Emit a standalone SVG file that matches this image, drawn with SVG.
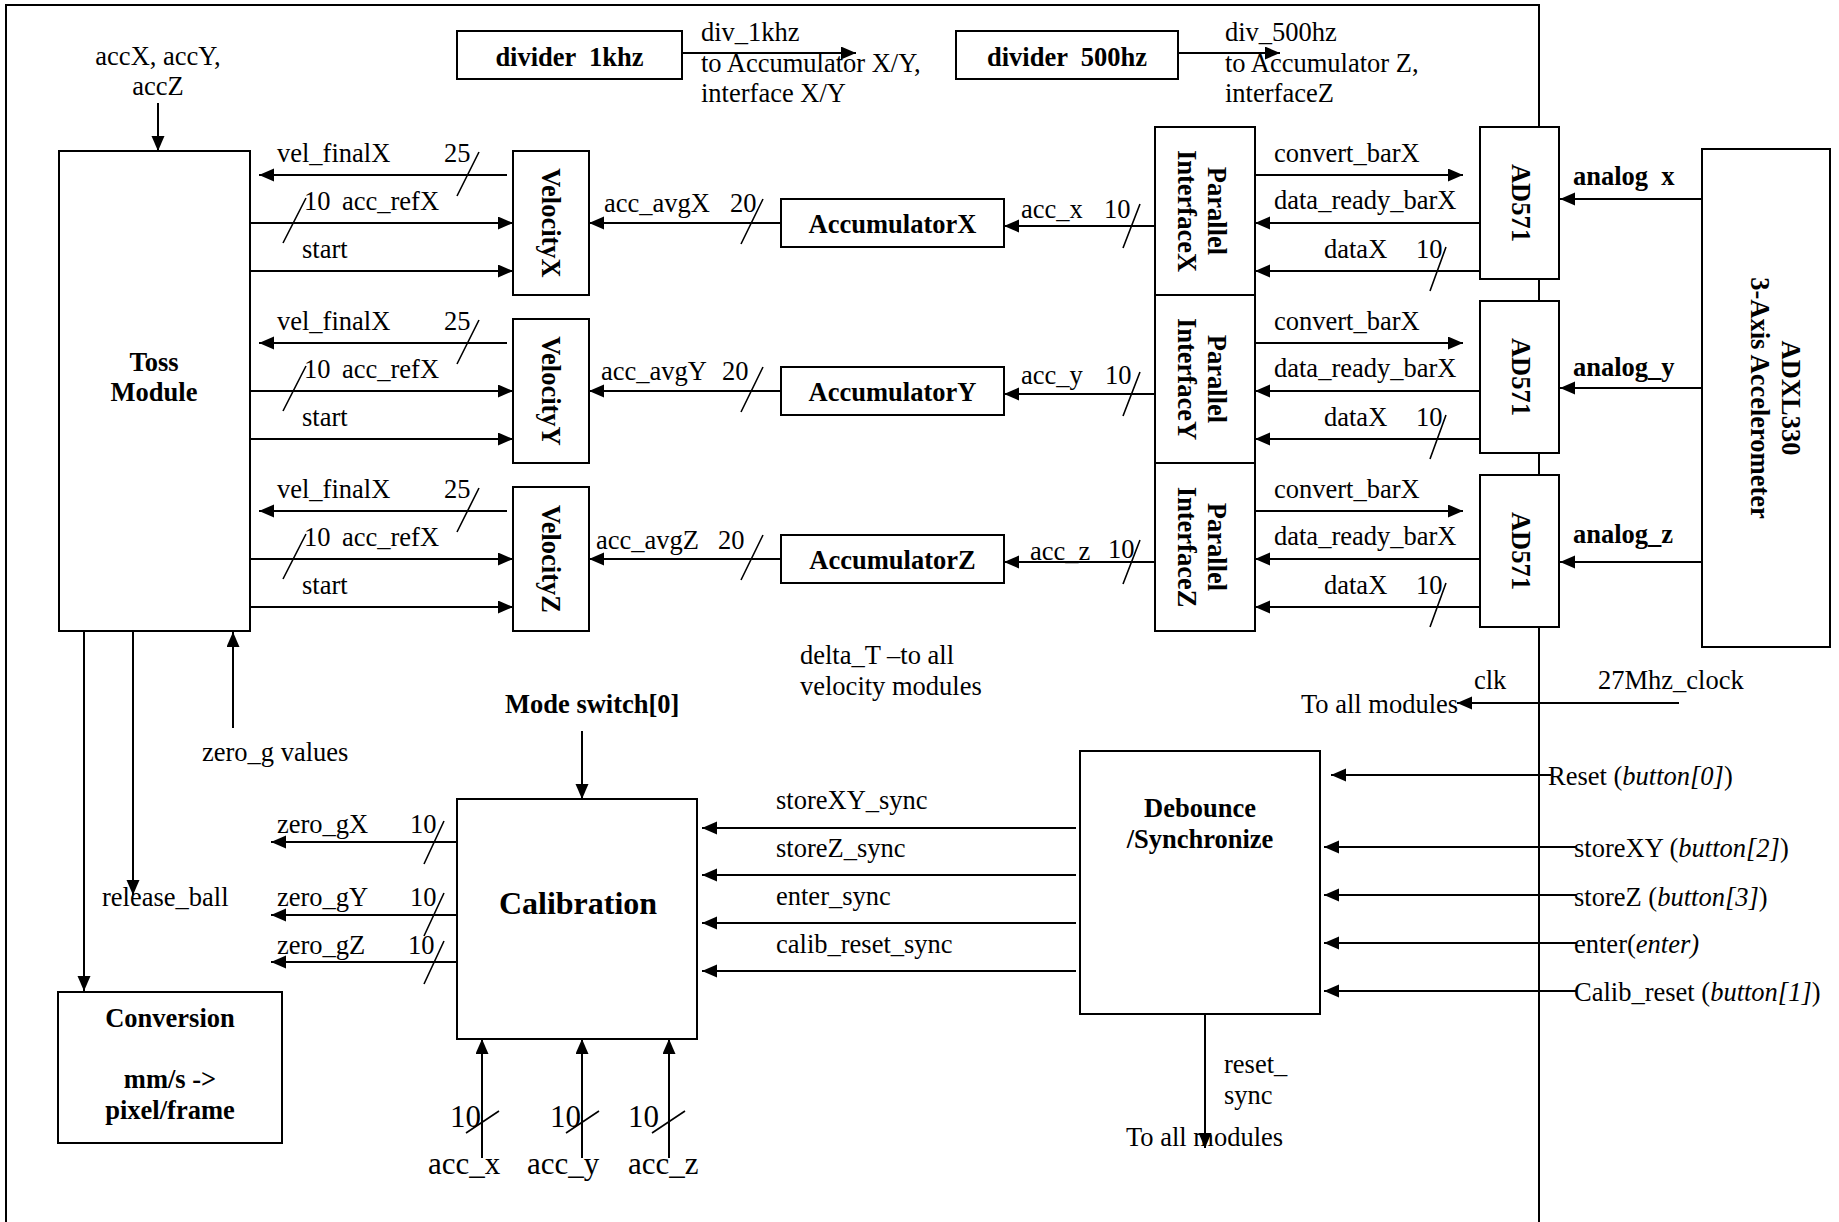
<svg xmlns="http://www.w3.org/2000/svg" width="1839" height="1222" viewBox="0 0 1839 1222">
<style>
.t{font-family:"Liberation Serif","Times New Roman",serif;font-size:26.5px;fill:#000}
.b{font-weight:bold}
.m{text-anchor:middle}
.big{font-size:31px}
.box{fill:#fff;stroke:#000;stroke-width:2}
.w{stroke:#000;stroke-width:2;fill:none}
.a{marker-end:url(#ah)}
.s{stroke:#000;stroke-width:1.6;fill:none}
</style>
<defs>
<marker id="ah" markerUnits="userSpaceOnUse" markerWidth="16" markerHeight="14" refX="15" refY="6.5" orient="auto"><path d="M0,0 L15,6.5 L0,13 z" fill="#000"/></marker>
</defs>
<rect width="1839" height="1222" fill="#fff"/>
<path class="w" d="M6,1222 V5 H1539 V1222"/>

<g id="connectors">
<line class="w a" x1="682" y1="53" x2="856" y2="53"/>
<line class="w a" x1="1178" y1="53" x2="1280" y2="53"/>
<line class="w a" x1="158" y1="103" x2="158" y2="151"/>
<g id="rowX">
<line class="w a" x1="507" y1="175" x2="259" y2="175"/>
<line class="w a" x1="250" y1="223" x2="513" y2="223"/>
<line class="w a" x1="250" y1="271" x2="513" y2="271"/>
<line class="w a" x1="781" y1="223" x2="589" y2="223"/>
<line class="w a" x1="1155" y1="226" x2="1004" y2="226"/>
<line class="w a" x1="1255" y1="175" x2="1463" y2="175"/>
<line class="w a" x1="1480" y1="223" x2="1255" y2="223"/>
<line class="w a" x1="1480" y1="271" x2="1255" y2="271"/>
<path class="s" d="M479,152 L457,196 M306,198 L283,243 M763,199 L741,244 M1140,204 L1123,248 M1446,247 L1430,291"/>
</g>
<g id="rowY" transform="translate(0,168)">
<line class="w a" x1="507" y1="175" x2="259" y2="175"/>
<line class="w a" x1="250" y1="223" x2="513" y2="223"/>
<line class="w a" x1="250" y1="271" x2="513" y2="271"/>
<line class="w a" x1="781" y1="223" x2="589" y2="223"/>
<line class="w a" x1="1155" y1="226" x2="1004" y2="226"/>
<line class="w a" x1="1255" y1="175" x2="1463" y2="175"/>
<line class="w a" x1="1480" y1="223" x2="1255" y2="223"/>
<line class="w a" x1="1480" y1="271" x2="1255" y2="271"/>
<path class="s" d="M479,152 L457,196 M306,198 L283,243 M763,199 L741,244 M1140,204 L1123,248 M1446,247 L1430,291"/>
</g>
<g id="rowZ" transform="translate(0,336)">
<line class="w a" x1="507" y1="175" x2="259" y2="175"/>
<line class="w a" x1="250" y1="223" x2="513" y2="223"/>
<line class="w a" x1="250" y1="271" x2="513" y2="271"/>
<line class="w a" x1="781" y1="223" x2="589" y2="223"/>
<line class="w a" x1="1155" y1="226" x2="1004" y2="226"/>
<line class="w a" x1="1255" y1="175" x2="1463" y2="175"/>
<line class="w a" x1="1480" y1="223" x2="1255" y2="223"/>
<line class="w a" x1="1480" y1="271" x2="1255" y2="271"/>
<path class="s" d="M479,152 L457,196 M306,198 L283,243 M763,199 L741,244 M1140,204 L1123,248 M1446,247 L1430,291"/>
</g>
<line class="w a" x1="1701" y1="199" x2="1560" y2="199"/>
<line class="w a" x1="1701" y1="388" x2="1560" y2="388"/>
<line class="w a" x1="1701" y1="562" x2="1560" y2="562"/>
<line class="w a" x1="84" y1="631" x2="84" y2="991"/>
<line class="w a" x1="133" y1="631" x2="133" y2="895"/>
<line class="w a" x1="233" y1="728" x2="233" y2="632"/>
<line class="w a" x1="582" y1="731" x2="582" y2="799"/>
<line class="w a" x1="457" y1="842" x2="271" y2="842"/>
<line class="w a" x1="457" y1="915" x2="271" y2="915"/>
<line class="w a" x1="457" y1="962" x2="271" y2="962"/>
<path class="s" d="M444,821 L424,864 M444,893 L424,936 M444,941 L424,984"/>
<line class="w a" x1="482" y1="1158" x2="482" y2="1039"/>
<line class="w a" x1="582" y1="1158" x2="582" y2="1039"/>
<line class="w a" x1="669" y1="1158" x2="669" y2="1039"/>
<path class="s" d="M499,1111 L466,1133 M599,1111 L566,1133 M685,1111 L652,1133"/>
<line class="w a" x1="1076" y1="828" x2="702" y2="828"/>
<line class="w a" x1="1076" y1="875" x2="702" y2="875"/>
<line class="w a" x1="1076" y1="923" x2="702" y2="923"/>
<line class="w a" x1="1076" y1="971" x2="702" y2="971"/>
<line class="w a" x1="1205" y1="1014" x2="1205" y2="1148"/>
<line class="w a" x1="1679" y1="703" x2="1457" y2="703"/>
<line class="w a" x1="1551" y1="775" x2="1331" y2="775"/>
<line class="w a" x1="1576" y1="847" x2="1324" y2="847"/>
<line class="w a" x1="1576" y1="895" x2="1324" y2="895"/>
<line class="w a" x1="1576" y1="943" x2="1324" y2="943"/>
<line class="w a" x1="1576" y1="991" x2="1324" y2="991"/>
</g>

<g id="div1k"><rect class="box" x="457" y="31" width="225" height="48"/><text class="t b m" x="569.5" y="66" xml:space="preserve">divider  1khz</text></g>
<g id="div500"><rect class="box" x="956" y="31" width="222" height="48"/><text class="t b m" x="1067" y="66" xml:space="preserve">divider  500hz</text></g>
<g id="toss"><rect class="box" x="59" y="151" width="191" height="480"/><text class="t b m" x="154" y="371">Toss</text><text class="t b m" x="154" y="401">Module</text></g>
<g id="velocityX"><rect class="box" x="513" y="151" width="76" height="144"/><text class="t b m" transform="translate(551,223) rotate(90)" y="9">VelocityX</text></g>
<g id="velocityY"><rect class="box" x="513" y="319" width="76" height="144"/><text class="t b m" transform="translate(551,391) rotate(90)" y="9">VelocityY</text></g>
<g id="velocityZ"><rect class="box" x="513" y="487" width="76" height="144"/><text class="t b m" transform="translate(551,559) rotate(90)" y="9">VelocityZ</text></g>
<g id="accumulatorX"><rect class="box" x="781" y="199" width="223" height="48"/><text class="t b m" x="892.5" y="233">AccumulatorX</text></g>
<g id="accumulatorY"><rect class="box" x="781" y="367" width="223" height="48"/><text class="t b m" x="892.5" y="401">AccumulatorY</text></g>
<g id="accumulatorZ"><rect class="box" x="781" y="535" width="223" height="48"/><text class="t b m" x="892.5" y="569">AccumulatorZ</text></g>
<g id="interfaceX"><rect class="box" x="1155" y="127" width="100" height="168"/><text class="t b m" transform="translate(1217,211) rotate(90)" y="9">Parallel</text><text class="t b m" transform="translate(1187,211) rotate(90)" y="9">InterfaceX</text></g>
<g id="interfaceY"><rect class="box" x="1155" y="295" width="100" height="168"/><text class="t b m" transform="translate(1217,379) rotate(90)" y="9">Parallel</text><text class="t b m" transform="translate(1187,379) rotate(90)" y="9">InterfaceY</text></g>
<g id="interfaceZ"><rect class="box" x="1155" y="463" width="100" height="168"/><text class="t b m" transform="translate(1217,547) rotate(90)" y="9">Parallel</text><text class="t b m" transform="translate(1187,547) rotate(90)" y="9">InterfaceZ</text></g>
<g id="ad571X"><rect class="box" x="1480" y="127" width="79" height="152"/><text class="t b m" transform="translate(1521,203) rotate(90)" y="9">AD571</text></g>
<g id="ad571Y"><rect class="box" x="1480" y="301" width="79" height="152"/><text class="t b m" transform="translate(1521,377) rotate(90)" y="9">AD571</text></g>
<g id="ad571Z"><rect class="box" x="1480" y="475" width="79" height="152"/><text class="t b m" transform="translate(1521,551) rotate(90)" y="9">AD571</text></g>
<g id="adxl330"><rect class="box" x="1702" y="149" width="128" height="498"/><text class="t b m" transform="translate(1791,398) rotate(90)" y="9">ADXL330</text><text class="t b m" transform="translate(1760,398) rotate(90)" y="9">3-Axis Accelerometer</text></g>
<g id="calibration"><rect class="box" x="457" y="799" width="240" height="240"/><text class="t b m" x="578" y="914" style="font-size:32px">Calibration</text></g>
<g id="conversion"><rect class="box" x="58" y="992" width="224" height="151"/><text class="t b m" x="170" y="1027">Conversion</text><text class="t b m" x="170" y="1088">mm/s -&gt;</text><text class="t b m" x="170" y="1119">pixel/frame</text></g>
<g id="debounce"><rect class="box" x="1080" y="751" width="240" height="263"/><text class="t b m" x="1200" y="817">Debounce</text><text class="t b m" x="1200" y="848">/Synchronize</text></g>

<g id="labels" class="t">
<text class="m" x="158" y="65">accX, accY,</text>
<text class="m" x="158" y="95">accZ</text>
<text x="701" y="41">div_1khz</text>
<text x="701" y="72">to Accumulator X/Y,</text>
<text x="701" y="102">interface X/Y</text>
<text x="1225" y="41">div_500hz</text>
<text x="1225" y="72">to Accumulator Z,</text>
<text x="1225" y="102">interfaceZ</text>
<g>
<text x="277" y="162">vel_finalX</text><text x="444" y="162">25</text>
<text x="304" y="210">10</text><text x="342" y="210">acc_refX</text>
<text x="302" y="258">start</text>
<text x="604" y="212">acc_avgX</text><text x="730" y="212">20</text>
<text x="1021" y="218">acc_x</text><text x="1104" y="218">10</text>
<text x="1274" y="162">convert_barX</text>
<text x="1274" y="209">data_ready_barX</text>
<text x="1324" y="258">dataX</text><text x="1416" y="258">10</text>
</g>
<g transform="translate(0,168)">
<text x="277" y="162">vel_finalX</text><text x="444" y="162">25</text>
<text x="304" y="210">10</text><text x="342" y="210">acc_refX</text>
<text x="302" y="258">start</text>
<text x="601" y="212">acc_avgY</text><text x="722" y="212">20</text>
<text x="1021" y="216">acc_y</text><text x="1105" y="216">10</text>
<text x="1274" y="162">convert_barX</text>
<text x="1274" y="209">data_ready_barX</text>
<text x="1324" y="258">dataX</text><text x="1416" y="258">10</text>
</g>
<g transform="translate(0,336)">
<text x="277" y="162">vel_finalX</text><text x="444" y="162">25</text>
<text x="304" y="210">10</text><text x="342" y="210">acc_refX</text>
<text x="302" y="258">start</text>
<text x="596" y="213">acc_avgZ</text><text x="718" y="213">20</text>
<text x="1030" y="224">acc_z</text><text x="1108" y="222">10</text>
<text x="1274" y="162">convert_barX</text>
<text x="1274" y="209">data_ready_barX</text>
<text x="1324" y="258">dataX</text><text x="1416" y="258">10</text>
</g>
<text class="b" x="1573" y="185" xml:space="preserve">analog  x</text>
<text class="b" x="1573" y="376">analog_y</text>
<text class="b" x="1573" y="543">analog_z</text>
<text x="800" y="664">delta_T –to all</text>
<text x="800" y="695">velocity modules</text>
<text x="1474" y="689">clk</text>
<text x="1598" y="689">27Mhz_clock</text>
<text x="1301" y="713">To all modules</text>
<text x="202" y="761">zero_g values</text>
<text x="102" y="906">release_ball</text>
<text class="b" x="505" y="713">Mode switch[0]</text>
<text x="277" y="833">zero_gX</text><text x="410" y="833">10</text>
<text x="277" y="906">zero_gY</text><text x="410" y="906">10</text>
<text x="277" y="954">zero_gZ</text><text x="408" y="954">10</text>
<text class="big" x="450" y="1127">10</text><text class="big" x="550" y="1127">10</text><text class="big" x="628" y="1127">10</text>
<text class="big" x="428" y="1174">acc_x</text><text class="big" x="527" y="1174">acc_y</text><text class="big" x="628" y="1174">acc_z</text>
<text x="776" y="809">storeXY_sync</text>
<text x="776" y="857">storeZ_sync</text>
<text x="776" y="905">enter_sync</text>
<text x="776" y="953">calib_reset_sync</text>
<text x="1224" y="1073">reset_</text>
<text x="1224" y="1104">sync</text>
<text x="1126" y="1146">To all modules</text>
<text x="1548" y="785">Reset (<tspan font-style="italic">button[0]</tspan>)</text>
<text x="1574" y="857">storeXY (<tspan font-style="italic">button[2]</tspan>)</text>
<text x="1574" y="906">storeZ (<tspan font-style="italic">button[3]</tspan>)</text>
<text x="1574" y="953">enter(<tspan font-style="italic">enter)</tspan></text>
<text x="1574" y="1001">Calib_reset (<tspan font-style="italic">button[1]</tspan>)</text>
</g>
</svg>
